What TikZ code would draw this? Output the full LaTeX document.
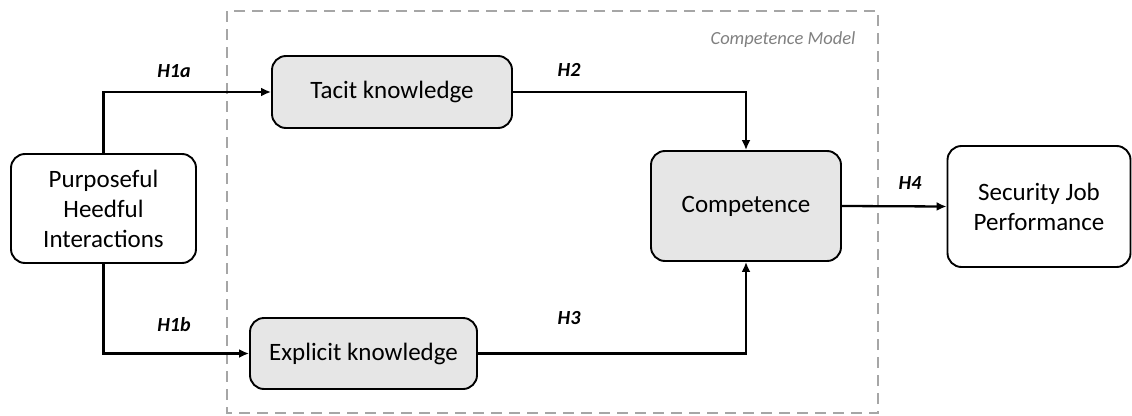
\documentclass[tikz,border=0pt]{standalone}
\usepackage{fontspec}
\setmainfont{Carlito}
\usetikzlibrary{arrows.meta}
\definecolor{boxgray}{HTML}{E6E6E6}
\definecolor{framegray}{HTML}{A6A6A6}
\definecolor{notegray}{HTML}{808080}
\tikzset{
  every picture/.style={x=1pt,y=-1pt},
  construct/.style={draw=black, line width=1.9pt, rounded corners=14pt, align=center,
    font=\fontsize{25}{30}\selectfont, inner sep=0pt},
  shaded/.style={construct, fill=boxgray},
  plain/.style={construct, fill=white},
  link/.style={draw=black, line width=2.3pt, -{Latex[length=10pt,width=9pt]}},
  hyp/.style={font=\fontsize{20}{22}\selectfont\bfseries\itshape},
}
\begin{document}
\begin{tikzpicture}
\useasboundingbox (0,0) rectangle (1132,415);
% model frame
\draw[framegray, line width=2.2pt, dash pattern=on 11pt off 7pt] (227,11) rectangle (878,413);
\node[anchor=east, text=notegray, font=\fontsize{18.5}{20}\selectfont\itshape] (cm) at (859,40) {Competence Model};
% constructs
\node[plain, minimum width=185pt, minimum height=109pt] (phi) at (103.5,208.5) {Purposeful\\Heedful\\Interactions};
\node[shaded, minimum width=240pt, minimum height=72pt] (tacit) at (392,92) {Tacit knowledge};
\node[shaded, minimum width=227pt, minimum height=71pt] (expl) at (363.5,353.5) {Explicit knowledge};
\node[shaded, minimum width=190pt, minimum height=110pt] (comp) at (746,206) {Competence};
\node[plain, minimum width=183pt, minimum height=121pt] (sjp) at (1039,206.5) {Security Job\\Performance};
% paths
\draw[link] (phi.north) |- (tacit.west);
\draw[link] (phi.south) |- (expl.west);
\draw[link] (tacit.east) -| (comp.north);
\draw[link] (expl.east) -| (comp.south);
\draw[link] (comp.east) -- (sjp.west);
% hypothesis labels
\node[hyp] (h1a) at (174,71) {H1a};
\node[hyp] (h1b) at (174,325) {H1b};
\node[hyp] (h2) at (569,70) {H2};
\node[hyp] (h3) at (569,318) {H3};
\node[hyp] (h4) at (910,183) {H4};
\end{tikzpicture}
\end{document}
